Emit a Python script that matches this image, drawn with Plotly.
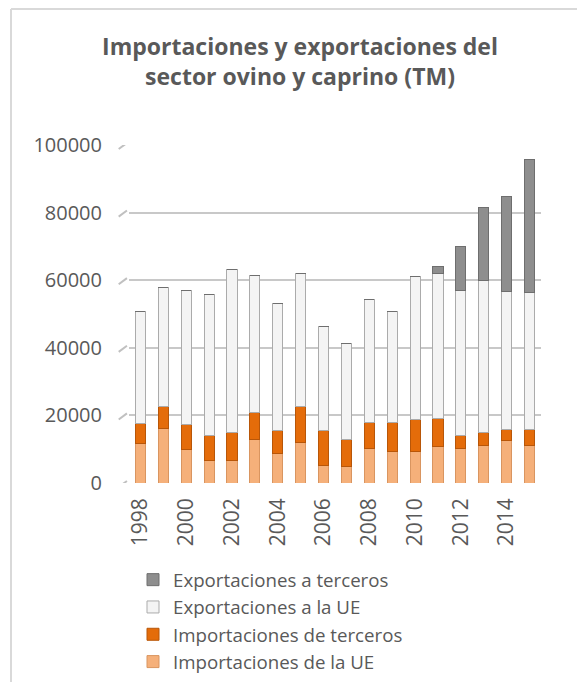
import plotly.graph_objects as go

years = list(range(1998, 2016))

# toneladas (TM)
imp_ue = [11800, 16000, 9800, 6600, 6800, 12900, 8800, 11900, 5100, 4800,
          10300, 9400, 9400, 10700, 10300, 11200, 12500, 11200]
imp_terceros = [5900, 6600, 7500, 7500, 8100, 7900, 6700, 10600, 10400, 8200,
                7600, 8600, 9400, 8400, 3800, 3800, 3200, 4500]
exp_ue = [33000, 35100, 39700, 41800, 48300, 40700, 37600, 39500, 30800, 28400,
          36400, 32600, 42400, 42900, 43000, 44900, 40900, 40700]
exp_terceros = [0, 0, 0, 0, 0, 0, 0, 0, 0, 0,
                0, 0, 0, 2200, 12800, 21700, 28200, 39300]

W, H = 577, 682
ml, mr, mt, mb = 129, 36, 145, 199
pw = W - ml - mr
ph = H - mt - mb

def px_x(p):
    return (p - ml) / pw

def px_y(p):
    return (H - mb - p) / ph

txt = "#595959"
fnt = "Open Sans"

fig = go.Figure()
series = [
    ("Importaciones de la UE", imp_ue, "#F5B07A", "#D99560"),
    ("Importaciones de terceros", imp_terceros, "#E46C0A", "#B85608"),
    ("Exportaciones a la UE", exp_ue, "#F4F4F4", "#ABABAB"),
    ("Exportaciones a terceros", exp_terceros, "#8E8E8E", "#6E6E6E"),
]
for name, vals, col, edge in series:
    fig.add_trace(go.Bar(x=years, y=vals, name=name,
                         marker=dict(color=col, line=dict(color=edge, width=1))))

# marco del grafico (solo visible arriba y a la izquierda)
fig.add_shape(type="line", xref="paper", yref="paper", x0=px_x(11), x1=px_x(W + 5),
              y0=px_y(9), y1=px_y(9), line=dict(color="#d9d9d9", width=2))
fig.add_shape(type="line", xref="paper", yref="paper", x0=px_x(11), x1=px_x(11),
              y0=px_y(9), y1=px_y(H + 5), line=dict(color="#d9d9d9", width=2))

# pequeños trazos diagonales de la pared 3D
for v in range(0, 100001, 20000):
    fig.add_shape(type="line", xref="paper", yref="y", x0=-0.025, x1=-0.005,
                  y0=v - 1200, y1=v + 600, line=dict(color="#c0c0c0", width=2))

fig.update_layout(
    width=W, height=H,
    margin=dict(l=ml, r=mr, t=mt, b=mb, autoexpand=False),
    barmode="stack",
    bargap=0.56,
    plot_bgcolor="white",
    paper_bgcolor="white",
    font=dict(family=fnt, color=txt),
    title=dict(text="<b>Importaciones y exportaciones del<br>sector ovino y caprino (TM)</b>",
               x=300 / W, xanchor="center", y=1 - 55 / H, yanchor="top",
               font=dict(size=23, color=txt, family=fnt)),
    xaxis=dict(range=[1997.5, 2015.5], tickmode="linear", tick0=1998, dtick=2,
               tickangle=-90, tickfont=dict(size=21, color=txt), showgrid=False,
               showline=False, ticks="", zeroline=False, automargin=False,
               ticklabelstandoff=10),
    yaxis=dict(range=[0, 100000], tickmode="linear", dtick=20000, tickformat="d",
               tickfont=dict(size=20, color=txt), gridcolor="#c8c8c8", gridwidth=2,
               zeroline=False, showline=False, ticks="", ticklabelstandoff=26,
               automargin=False),
    legend=dict(traceorder="reversed", orientation="v",
                x=px_x(133), xanchor="left", y=px_y(561), yanchor="top",
                font=dict(size=18.7, color=txt), itemwidth=30),
    showlegend=True,
)

fig.write_html("out.html", config={"displayModeBar": False},
               post_script="document.body.style.margin='0px';")
